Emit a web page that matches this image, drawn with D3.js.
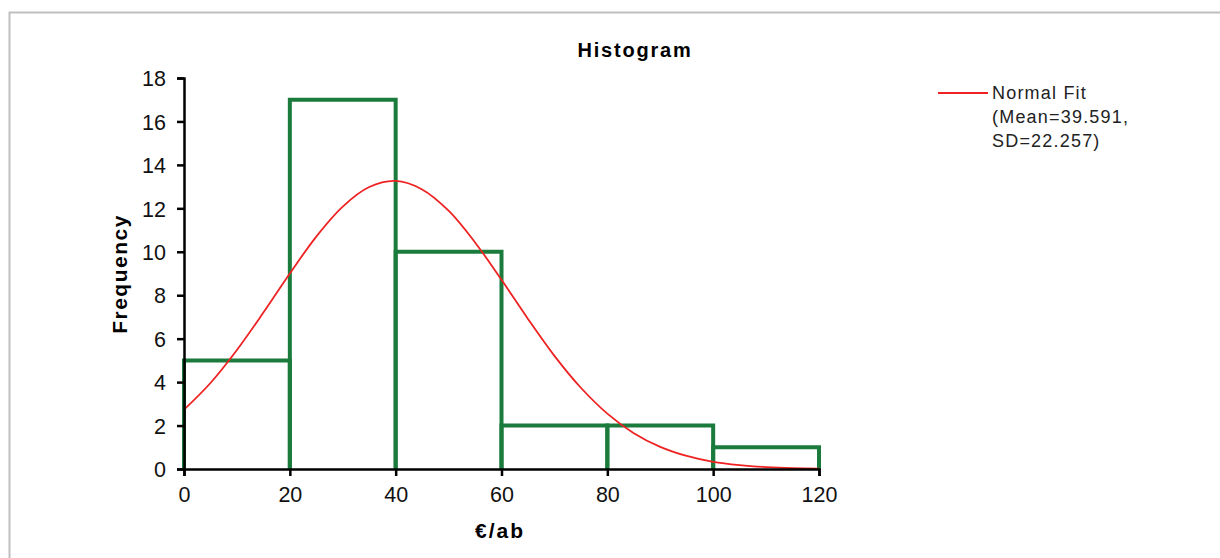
<!DOCTYPE html>
<html>
<head>
<meta charset="utf-8">
<script src="https://cdn.jsdelivr.net/npm/d3@7"></script>
<style>
  body { margin: 0; background: #fff; }
  svg { display: block; font-family: "Liberation Sans", Arial, sans-serif; }
</style>
</head>
<body>
<svg id="chart" width="1220" height="558"></svg>
<script>
// histogram bins (lower edge, upper edge) and counts
var binEdges = [0, 20, 40, 60, 80, 100, 120];
var counts = [5, 17, 10, 2, 2, 1];

// normal fit curve
var fitX = [0, 5, 10, 15, 20, 25, 30, 35, 40, 45, 50, 55, 60, 65, 70, 75, 80, 85, 90, 95, 100, 105, 110, 115, 120];
var fitY = [2.73, 3.96, 5.48, 7.2, 9.0, 10.7, 12.08, 12.98, 13.26, 12.87, 11.89, 10.43, 8.71, 6.91, 5.21, 3.74, 2.55, 1.65, 1.02, 0.6, 0.33, 0.18, 0.09, 0.04, 0.02];

var xTicks = [0, 20, 40, 60, 80, 100, 120];
var yTicks = [0, 2, 4, 6, 8, 10, 12, 14, 16, 18];
var legendLines = ['Normal Fit', '(Mean=39.591,', 'SD=22.257)'];

var svg = d3.select('#chart');

// outer frame (only top/left edges fall inside the picture)
svg.append('rect')
  .attr('x', 9.5).attr('y', 12.5)
  .attr('width', 1230).attr('height', 560)
  .style('fill', 'none')
  .style('stroke', '#bfbfbf')
  .style('stroke-width', 2);

var x = d3.scaleLinear().domain([0, 120]).range([184, 819]);
var y = d3.scaleLinear().domain([0, 18]).range([469, 78]);

var green = '#1b7b3c';

// bars: open rectangles, no fill
var bins = counts.map(function(c, i) { return { x0: binEdges[i], x1: binEdges[i + 1], n: c }; });
svg.append('g').selectAll('path')
  .data(bins)
  .enter().append('path')
  .attr('d', function(d) {
    return 'M' + x(d.x0) + ',' + y(0) + 'V' + y(d.n) + 'H' + x(d.x1) + 'V' + y(0);
  })
  .style('fill', 'none')
  .style('stroke', green)
  .style('stroke-width', 4)
  .style('stroke-linejoin', 'miter');

// normal fit
var line = d3.line()
  .x(function(d) { return x(d[0]); })
  .y(function(d) { return y(d[1]); })
  .curve(d3.curveCatmullRom);

svg.append('path')
  .datum(fitX.map(function(v, i) { return [v, fitY[i]]; }))
  .attr('d', line)
  .style('fill', 'none')
  .style('stroke', '#ee2222')
  .style('stroke-width', 1.8);

// axes
var xAxis = svg.append('g')
  .attr('transform', 'translate(0,' + y(0) + ')')
  .call(d3.axisBottom(x).tickValues(xTicks).tickSize(7).tickPadding(11));
var yAxis = svg.append('g')
  .attr('transform', 'translate(' + x(0) + ',0)')
  .call(d3.axisLeft(y).tickValues(yTicks).tickSize(7).tickPadding(11));

[xAxis, yAxis].forEach(function(a) {
  a.select('.domain').style('stroke', '#000').style('stroke-width', 2.5);
  a.selectAll('.tick line').style('stroke', '#000').style('stroke-width', 2.5);
  a.selectAll('.tick text')
    .style('font-family', '"Liberation Sans", Arial, sans-serif')
    .style('font-size', '21.5px')
    .style('fill', '#111');
});
yAxis.selectAll('.tick text').attr('dy', '0.36em');

// title and axis titles
svg.append('text')
  .attr('x', 635).attr('y', 57)
  .attr('text-anchor', 'middle')
  .style('font-size', '20px').style('font-weight', 'bold')
  .style('letter-spacing', '1.8px')
  .text('Histogram');

svg.append('text')
  .attr('x', 500).attr('y', 538)
  .attr('text-anchor', 'middle')
  .style('font-size', '21px').style('font-weight', 'bold')
  .style('letter-spacing', '2px')
  .text('€/ab');

svg.append('text')
  .attr('transform', 'translate(127,274) rotate(-90)')
  .attr('text-anchor', 'middle')
  .style('font-size', '21px').style('font-weight', 'bold')
  .style('letter-spacing', '1.5px')
  .text('Frequency');

// legend
var legend = svg.append('g').attr('transform', 'translate(938,93)');
legend.append('line')
  .attr('x1', 0).attr('x2', 50)
  .style('stroke', '#ee2222').style('stroke-width', 1.8);
legend.selectAll('text')
  .data(legendLines)
  .enter().append('text')
  .attr('x', 54)
  .attr('y', function(d, i) { return i * 24; })
  .attr('dy', '0.36em')
  .style('font-size', '18px')
  .style('letter-spacing', '1.2px')
  .style('fill', '#222')
  .text(function(d) { return d; });
</script>
</body>
</html>
